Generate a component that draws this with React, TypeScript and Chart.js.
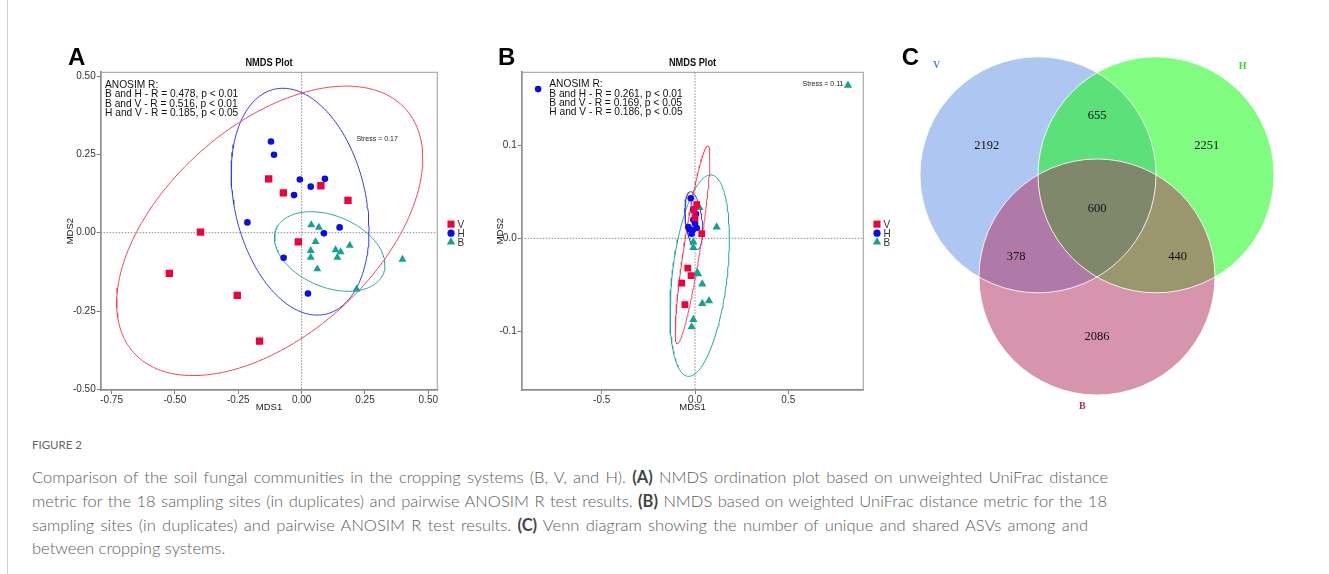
import React, { useEffect, useRef } from "react";
import { Chart, registerables } from "chart.js";
Chart.register(...registerables);

// ---------- Panel A : NMDS (unweighted UniFrac) ----------
const A_V = [[-0.130,0.172],[-0.072,0.127],[0.076,0.150],[0.183,0.103],[-0.399,0.002],[-0.522,-0.130],[-0.254,-0.200],[-0.166,-0.346],[-0.013,-0.029]];
const A_H = [[-0.121,0.291],[-0.109,0.249],[-0.214,0.033],[-0.007,0.170],[0.036,0.147],[0.092,0.172],[-0.030,0.120],[0.150,0.017],[0.088,-0.002],[-0.071,-0.080],[0.025,-0.194]];
const A_B = [[0.038,0.025],[0.068,0.017],[0.055,-0.029],[0.036,-0.057],[0.036,-0.079],[0.062,-0.116],[0.134,-0.055],[0.154,-0.061],[0.141,-0.079],[0.190,-0.041],[0.398,-0.085],[0.217,-0.180]];
// ellipse: centre x, centre y, half-width, half-height, correlation
const A_ELL_V = [-0.126, 0.006, 0.604, 0.462, 0.5];
const A_ELL_H = [-0.006, 0.099, 0.272, 0.362, -0.25];
const A_ELL_B = [0.111, -0.060, 0.218, 0.127, -0.34];
const A_ANOSIM = ["ANOSIM R:", "B and H - R = 0.478, p < 0.01", "B and V - R = 0.516, p < 0.01", "H and V - R = 0.185, p < 0.05"];
const A_STRESS = "Stress = 0.17";

// ---------- Panel B : NMDS (weighted UniFrac) ----------
const B_V = [[0.009,0.036],[0.0,0.022],[0.036,0.005],[-0.039,-0.032],[-0.021,-0.040],[-0.071,-0.048],[-0.054,-0.071],[-0.005,0.030]];
const B_H = [[-0.023,0.043],[-0.009,0.031],[0.005,0.026],[-0.009,0.020],[-0.036,0.012],[-0.012,0.009],[0.009,0.011],[-0.018,0.005],[0.0,0.016],[-0.030,0.010],[-0.841,0.160]];
const B_B = [[0.023,0.033],[0.116,0.012],[-0.009,-0.004],[-0.009,-0.010],[0.012,-0.037],[0.016,-0.038],[0.039,-0.049],[0.039,-0.070],[0.075,-0.067],[-0.009,-0.087],[-0.018,-0.095],[0.820,0.164]];
const B_ELL_V = [-0.013, -0.007, 0.093, 0.106, 0.88];
const B_ELL_H = [-0.0065, 0.019, 0.0475, 0.031, -0.35];
const B_ELL_B = [0.025, -0.040, 0.159, 0.108, 0.37];
const B_ANOSIM = ["ANOSIM R:", "B and H - R = 0.261, p < 0.01", "B and V - R = 0.169, p < 0.05", "H and V - R = 0.186, p < 0.05"];
const B_STRESS = "Stress = 0.11";

const GROUPS = ["V", "H", "B"];

// ---------- Panel C : Venn ----------
const VENN_SETS = ["V", "H", "B"];
const VENN_UNIQUE = [2192, 2251, 2086]; // V only, H only, B only
const VENN_PAIRS = [655, 378, 440];     // V&H, V&B, H&B
const VENN_ALL = 600;

const CAPTION_HEAD = "FIGURE 2";
const CAPTION_LINES: { t: string; b?: boolean }[][] = [
  [{ t: "Comparison of the soil fungal communities in the cropping systems (B, V, and H). " }, { t: "(A)", b: true }, { t: " NMDS ordination plot based on unweighted UniFrac distance" }],
  [{ t: "metric for the 18 sampling sites (in duplicates) and pairwise ANOSIM R test results. " }, { t: "(B)", b: true }, { t: " NMDS based on weighted UniFrac distance metric for the 18" }],
  [{ t: "sampling sites (in duplicates) and pairwise ANOSIM R test results. " }, { t: "(C)", b: true }, { t: " Venn diagram showing the number of unique and shared ASVs among and" }],
  [{ t: "between cropping systems." }],
];

// ---------- styling ----------
const RED = "#f0003c";
const BLUE = "#0a0aef";
const TEAL = "#13a294";
const SANS = "'Liberation Sans', Arial, sans-serif";
const SERIF = "'Liberation Serif', 'Times New Roman', serif";

function ellipsePts(p: number[]) {
  const [cx, cy, rx, ry, rho] = p;
  const s = Math.sqrt(1 - rho * rho);
  const pts: { x: number; y: number }[] = [];
  for (let i = 0; i <= 160; i++) {
    const t = (i / 160) * 2 * Math.PI;
    pts.push({ x: cx + rx * Math.cos(t), y: cy + ry * (rho * Math.cos(t) + s * Math.sin(t)) });
  }
  return pts;
}
const toXY = (a: number[][]) => a.map(([x, y]) => ({ x, y }));

type PanelCfg = {
  letter: string;
  xMin: number; xMax: number; yMin: number; yMax: number;
  xStep: number; yStep: number; dec: number;
  yAxisW: number; padRight: number;
  V: number[][]; H: number[][]; B: number[][];
  ellV: number[]; ellH: number[]; ellB: number[];
  anosim: string[]; anosimX: number; anosimY: number[];
  stress: string; stressPos: number[];
  legendX: number; sizes: number[];
};

function drawMarker(ctx: CanvasRenderingContext2D, kind: string, x: number, y: number, r: number, color: string) {
  ctx.fillStyle = color;
  ctx.beginPath();
  if (kind === "rect") {
    const h = r * Math.SQRT1_2;
    ctx.rect(x - h, y - h, 2 * h, 2 * h);
  } else if (kind === "circle") {
    ctx.arc(x, y, r, 0, Math.PI * 2);
  } else {
    for (let k = 0; k < 3; k++) {
      const a = (k * 2 * Math.PI) / 3;
      const px = x + Math.sin(a) * r;
      const py = y - Math.cos(a) * r;
      if (k === 0) ctx.moveTo(px, py); else ctx.lineTo(px, py);
    }
    ctx.closePath();
  }
  ctx.fill();
}

// text drawn slightly condensed, like the original Helvetica rendering
function textX(ctx: CanvasRenderingContext2D, s: string, x: number, y: number, sx: number) {
  ctx.save();
  ctx.translate(x, y);
  ctx.scale(sx, 1);
  ctx.fillText(s, 0, 0);
  ctx.restore();
}

function makeNmds(cfg: PanelCfg) {
  const decor = {
    id: "decor",
    beforeDatasetsDraw(chart: any) {
      const { ctx, chartArea: ca, scales } = chart;
      ctx.save();
      ctx.strokeStyle = "#9c9c9c";
      ctx.lineWidth = 1;
      ctx.strokeRect(ca.left, ca.top, ca.right - ca.left, ca.bottom - ca.top);
      ctx.setLineDash([1.5, 1.5]);
      ctx.strokeStyle = "#8a8a8a";
      const x0 = scales.x.getPixelForValue(0);
      const y0 = scales.y.getPixelForValue(0);
      ctx.beginPath();
      ctx.moveTo(x0, ca.top); ctx.lineTo(x0, ca.bottom);
      ctx.moveTo(ca.left, y0); ctx.lineTo(ca.right, y0);
      ctx.stroke();
      ctx.restore();
    },
    afterDraw(chart: any) {
      const { ctx, chartArea: ca, scales } = chart;
      ctx.save();
      ctx.fillStyle = "#000";
      ctx.textBaseline = "alphabetic";
      ctx.font = `bold 24px ${SANS}`;
      ctx.textAlign = "left";
      ctx.fillText(cfg.letter, 8, 25);
      ctx.font = `bold 10.5px ${SANS}`;
      ctx.textAlign = "center";
      ctx.textBaseline = "middle";
      ctx.fillStyle = "#111";
      textX(ctx, "NMDS Plot", (ca.left + ca.right) / 2, 23.3, 0.88);
      ctx.textAlign = "left";
      ctx.font = `11.6px ${SANS}`;
      cfg.anosim.forEach((s, i) => textX(ctx, s, cfg.anosimX, cfg.anosimY[i], 0.88));
      ctx.font = `7.6px ${SANS}`;
      ctx.textAlign = "center";
      ctx.fillStyle = "#222";
      textX(ctx, cfg.stress, scales.x.getPixelForValue(cfg.stressPos[0]), scales.y.getPixelForValue(cfg.stressPos[1]), 0.92);
      // legend
      const kinds = ["rect", "circle", "triangle"];
      const cols = [RED, BLUE, TEAL];
      const yc = (ca.top + ca.bottom) / 2 + 2;
      ctx.font = `10.5px ${SANS}`;
      ctx.textAlign = "left";
      GROUPS.forEach((g, i) => {
        const y = yc + (i - 1) * 9;
        drawMarker(ctx, kinds[i], cfg.legendX, y, [5, 3.6, 4.8][i], cols[i]);
        ctx.fillStyle = "#333";
        textX(ctx, g, cfg.legendX + 6.5, y + 0.5, 0.95);
      });
      ctx.restore();
    },
  };

  const tickFont = { family: SANS, size: 10 };
  const ellDs = (p: number[], c: string) => ({
    type: "line" as const, data: ellipsePts(p), borderColor: c, borderWidth: 1,
    pointRadius: 0, fill: false, tension: 0, order: 2,
  });
  const ptDs = (d: number[][], style: string, r: number, c: string, label: string) => ({
    type: "scatter" as const, label, data: toXY(d), pointStyle: style, pointRadius: r,
    backgroundColor: c, borderWidth: 0, order: 1,
  });

  return {
    type: "scatter" as const,
    data: {
      datasets: [
        ellDs(cfg.ellV, "#f2455f"), ellDs(cfg.ellH, "#3b3bea"), ellDs(cfg.ellB, "#24a898"),
        ptDs(cfg.V, "rect", cfg.sizes[0], RED, "V"),
        ptDs(cfg.H, "circle", cfg.sizes[1], BLUE, "H"),
        ptDs(cfg.B, "triangle", cfg.sizes[2], TEAL, "B"),
      ],
    },
    options: {
      animation: false,
      responsive: false,
      events: [],
      layout: { padding: { top: 32.3, right: cfg.padRight, left: 0, bottom: 0 } },
      plugins: { legend: { display: false }, tooltip: { enabled: false }, title: { display: false } },
      scales: {
        x: {
          type: "linear", min: cfg.xMin, max: cfg.xMax,
          ticks: { stepSize: cfg.xStep, includeBounds: false, color: "#333", font: tickFont, padding: 0,
            callback: (v: any) => Number(v).toFixed(cfg.dec), maxRotation: 0 },
          grid: { drawOnChartArea: false, tickLength: 4, color: "#7a7a7a" },
          border: { color: "#7a7a7a", width: 1.6 },
          title: { display: true, text: "MDS1", color: "#222", font: { family: SANS, size: 9.5 }, padding: { top: 0, bottom: 6.5 } },
          afterFit: (s: any) => { s.height = 30; },
        },
        y: {
          type: "linear", min: cfg.yMin, max: cfg.yMax,
          ticks: { stepSize: cfg.yStep, includeBounds: false, color: "#333", font: tickFont, padding: 1,
            callback: (v: any) => Number(v).toFixed(cfg.dec) },
          grid: { drawOnChartArea: false, tickLength: 4, color: "#7a7a7a" },
          border: { color: "#7a7a7a", width: 1.6 },
          title: { display: true, text: "MDS2", color: "#222", font: { family: SANS, size: 9.5 }, padding: { top: 4.3, bottom: 0 } },
          afterFit: (s: any) => { s.width = cfg.yAxisW; },
        },
      },
    },
    plugins: [decor],
  };
}

function makeVenn() {
  const centres = VENN_SETS.map((_, i) => {
    const a = ((150 - i * 120) * Math.PI) / 180; // V upper-left, H upper-right, B bottom
    const d = 1 / Math.sqrt(3);
    return { x: d * Math.cos(a), y: d * Math.sin(a) };
  });
  const fills = ["#aec7f2", "#80fc80", "#d794ad"];
  const pairFill = ["#5be07a", "#b07aa8", "#9a966e"]; // V&H, V&B, H&B
  const pairIdx = [[0, 1], [0, 2], [1, 2]];
  const triFill = "#80876a";
  const pxUnit = (chart: any) => chart.scales.x.getPixelForValue(1) - chart.scales.x.getPixelForValue(0);

  const vennPlugin = {
    id: "venn",
    afterDatasetsDraw(chart: any) {
      const { ctx, scales } = chart;
      const els = chart.getDatasetMeta(0).data;
      const r = pxUnit(chart);
      const circ = (i: number) => { ctx.beginPath(); ctx.arc(els[i].x, els[i].y, r, 0, Math.PI * 2); };
      ctx.save();
      [0, 1, 2].forEach((i) => { circ(i); ctx.fillStyle = fills[i]; ctx.fill(); });
      pairIdx.forEach(([i, j], k) => {
        ctx.save(); circ(i); ctx.clip(); circ(j); ctx.clip();
        ctx.fillStyle = pairFill[k]; ctx.fillRect(0, 0, chart.width, chart.height); ctx.restore();
      });
      ctx.save(); circ(0); ctx.clip(); circ(1); ctx.clip(); circ(2); ctx.clip();
      ctx.fillStyle = triFill; ctx.fillRect(0, 0, chart.width, chart.height); ctx.restore();
      ctx.strokeStyle = "rgba(255,255,255,0.85)"; ctx.lineWidth = 1;
      [0, 1, 2].forEach((i) => { circ(i); ctx.stroke(); });
      // counts
      const X = (v: number) => scales.x.getPixelForValue(v);
      const Y = (v: number) => scales.y.getPixelForValue(v);
      ctx.fillStyle = "#111";
      ctx.font = `12.5px ${SERIF}`;
      ctx.textAlign = "center"; ctx.textBaseline = "middle";
      const uniquePos = [[-0.935, 0.536], [0.93, 0.536], [0, -1.083]];
      const pairPos = [[0, 0.79], [-0.686, -0.405], [0.684, -0.405]];
      VENN_UNIQUE.forEach((n, i) => ctx.fillText(String(n), X(uniquePos[i][0]), Y(uniquePos[i][1])));
      VENN_PAIRS.forEach((n, i) => ctx.fillText(String(n), X(pairPos[i][0]), Y(pairPos[i][1])));
      ctx.fillText(String(VENN_ALL), X(0), Y(0));
      // set names
      const namePos = [[-1.36, 1.214], [1.235, 1.205], [-0.125, -1.67]];
      const nameCol = ["#5a82e6", "#2fdc2f", "#b0305a"];
      ctx.font = `bold 10px ${SERIF}`;
      VENN_SETS.forEach((s, i) => { ctx.fillStyle = nameCol[i]; ctx.fillText(s, X(namePos[i][0]), Y(namePos[i][1])); });
      // panel letter
      ctx.fillStyle = "#000"; ctx.textAlign = "left"; ctx.textBaseline = "alphabetic";
      ctx.font = `bold 24px ${SANS}`;
      ctx.fillText("C", 21.7, 35);
      ctx.restore();
    },
  };

  return {
    type: "bubble" as const,
    data: {
      datasets: [{
        data: centres,
        backgroundColor: "rgba(0,0,0,0)",
        borderWidth: 0,
        radius: 0,
      }],
    },
    options: {
      animation: false, responsive: false, events: [],
      layout: { padding: 0 },
      plugins: { legend: { display: false }, tooltip: { enabled: false } },
      scales: {
        x: { display: false, min: -1.839, max: 1.966 },
        y: { display: false, min: -1.874, max: 1.516 },
      },
    },
    plugins: [vennPlugin],
  };
}

function ChartBox({ make, left, top, width, height }: any) {
  const ref = useRef<HTMLCanvasElement>(null);
  useEffect(() => {
    const c = new Chart(ref.current as HTMLCanvasElement, make() as any);
    return () => c.destroy();
  }, []);
  return (
    <canvas ref={ref} width={width} height={height}
      style={{ position: "absolute", left, top, width, height, display: "block" }} />
  );
}

const PANEL_A: PanelCfg = {
  letter: "A", xMin: -0.793, xMax: 0.5355, yMin: -0.502, yMax: 0.512, xStep: 0.25, yStep: 0.25, dec: 2,
  yAxisW: 40.7, padRight: 42.7, V: A_V, H: A_H, B: A_B, ellV: A_ELL_V, ellH: A_ELL_H, ellB: A_ELL_B,
  anosim: A_ANOSIM, anosimX: 45, anosimY: [44.3, 54, 63.3, 72.7], stress: A_STRESS, stressPos: [0.298, 0.299],
  legendX: 391, sizes: [5.2, 3.3, 4.6],
};
const PANEL_B: PanelCfg = {
  letter: "B", xMin: -0.929, xMax: 0.902, yMin: -0.1626, yMax: 0.178, xStep: 0.5, yStep: 0.1, dec: 1,
  yAxisW: 31.7, padRight: 46.7, V: B_V, H: B_H, B: B_B, ellV: B_ELL_V, ellH: B_ELL_H, ellB: B_ELL_B,
  anosim: B_ANOSIM, anosimX: 59.3, anosimY: [43.3, 53.3, 62.7, 72], stress: B_STRESS, stressPos: [0.686, 0.1656],
  legendX: 387, sizes: [4.8, 3.3, 4.8],
};

const CAP_W = [1076, 1075, 1056];
const CAP_Y = [477.3, 501.3, 525, 548.3];

export default function App() {
  return (
    <div style={{ position: "fixed", left: 0, top: 0, width: 1329, height: 574, background: "#fff", overflow: "hidden" }}>
      <div style={{ position: "absolute", left: 7, top: 0, width: 1, height: 574, background: "#cfcfcf" }} />
      <ChartBox make={() => makeNmds(PANEL_A)} left={60} top={40} width={420} height={380} />
      <ChartBox make={() => makeNmds(PANEL_B)} left={490} top={40} width={420} height={380} />
      <ChartBox make={makeVenn} left={880} top={30} width={449} height={400} />
      <div style={{ position: "absolute", left: 32, top: 437, lineHeight: "16px", fontFamily: "Lato, 'Open Sans', sans-serif",
        fontSize: 11.5, color: "#666", whiteSpace: "nowrap" }}>{CAPTION_HEAD}</div>
      {CAPTION_LINES.map((line, i) => (
        <div key={i} style={{
          position: "absolute", left: 32, top: CAP_Y[i] - 11, height: 22, lineHeight: "22px",
          width: i < 3 ? CAP_W[i] : undefined, textAlign: "justify", textAlignLast: i < 3 ? "justify" : "left",
          fontFamily: "Lato, 'Open Sans', sans-serif", fontSize: 16.5, fontWeight: 300, color: "#5c5c5c", whiteSpace: i < 3 ? "normal" : "nowrap",
        } as any}>
          {line.map((seg, k) => (
            <span key={k} style={{ fontWeight: seg.b ? 700 : 300, color: seg.b ? "#444" : undefined }}>{seg.t}</span>
          ))}
        </div>
      ))}
    </div>
  );
}
